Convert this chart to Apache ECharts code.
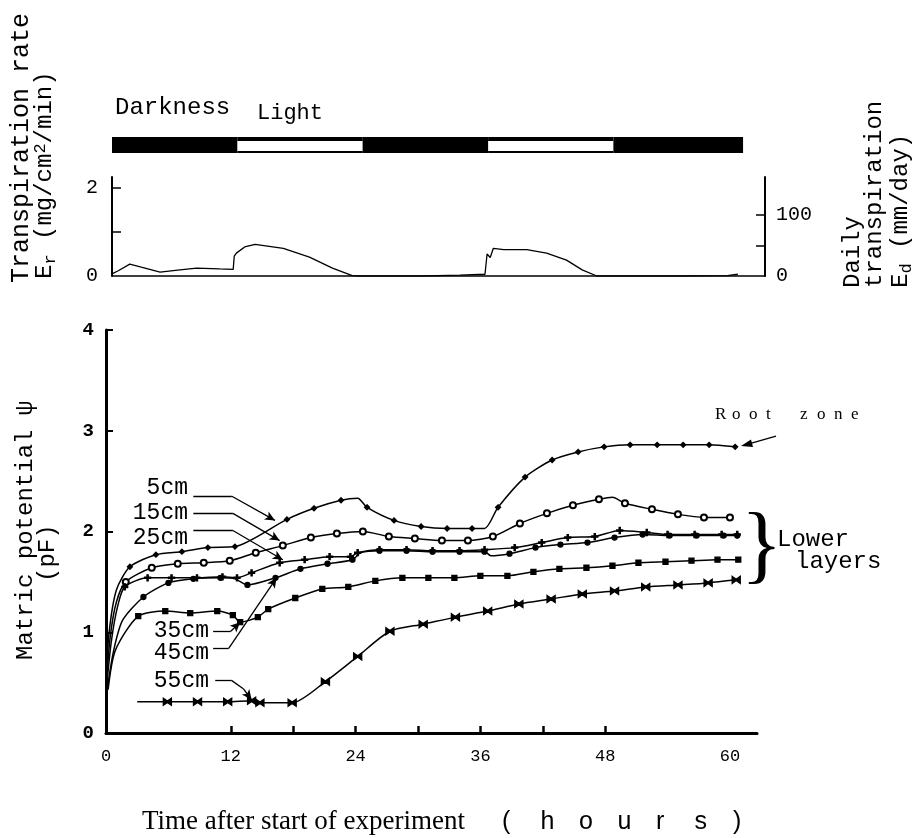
<!DOCTYPE html>
<html>
<head>
<meta charset="utf-8">
<script src="https://cdn.jsdelivr.net/npm/echarts@6/dist/echarts.min.js"></script>
<style>
  html, body { margin: 0; padding: 0; background: #fff; }
  #chart { width: 917px; height: 838px; }
</style>
</head>
<body>
<div id="chart"></div>
<script>
// ---- data (hours after start, value) ----
const photoperiods = [[0, 12, 'dark'], [12, 24, 'light'], [24, 36, 'dark'], [36, 48, 'light'], [48, 60.4, 'dark']]

// transpiration rate Er (mg/cm2/min)
const transpiration = [
  [0, 0.05], [0.6, 0.12], [1.7, 0.27], [2.8, 0.2], [4.6, 0.09], [6.5, 0.14], [8.1, 0.18],
  [10.3, 0.16], [11.6, 0.15], [11.7, 0.45], [11.9, 0.52], [12.7, 0.66], [13.7, 0.72],
  [16.4, 0.63], [18.9, 0.43], [21.1, 0.18], [23, 0.01], [23.5, 0], [30, 0], [33.3, 0.02],
  [35.7, 0.04], [35.9, 0.5], [36.2, 0.42], [36.5, 0.63], [37.5, 0.6], [39.7, 0.6],
  [41.6, 0.52], [43.5, 0.36], [45, 0.14], [46.4, 0], [55, 0], [58.9, 0.01], [59.9, 0.04]
]

// matric potential pF at each depth
const depth5 = [
  [0, 0.5], [0.3, 1.0], [1, 1.42], [2.3, 1.65], [4.8, 1.77], [7.3, 1.8], [9.8, 1.84], [12.4, 1.85],
  [17.4, 2.12], [20, 2.23], [22.6, 2.31], [24.2, 2.33], [25.1, 2.24], [27.7, 2.11], [30.3, 2.05],
  [32.8, 2.03], [35.2, 2.03], [36.4, 2.03], [37.7, 2.24], [40.3, 2.54], [42.9, 2.71], [45.4, 2.79],
  [47.9, 2.84], [50.4, 2.86], [53, 2.86], [55.5, 2.86], [58, 2.86], [60.5, 2.84]
]
const depth15 = [
  [0, 0.45], [0.4, 0.95], [1, 1.3], [1.9, 1.5], [4.4, 1.64], [6.9, 1.68], [9.4, 1.69], [11.9, 1.71],
  [14.4, 1.79], [17, 1.86], [19.7, 1.94], [22.2, 1.98], [24.7, 2.0], [27.2, 1.95], [29.7, 1.93],
  [32.3, 1.91], [34.8, 1.91], [37.2, 1.95], [39.8, 2.08], [42.4, 2.18], [44.9, 2.26], [47.4, 2.32],
  [48.7, 2.34], [49.9, 2.28], [52.5, 2.22], [55, 2.17], [57.5, 2.14], [60, 2.14]
]
const depth25 = [
  [0, 0.4], [0.5, 0.9], [1.1, 1.25], [1.8, 1.45], [4, 1.54], [6.3, 1.54], [8.75, 1.54], [11.2, 1.55],
  [12.6, 1.54], [14, 1.59], [16.7, 1.69], [19.1, 1.72], [21.5, 1.75], [23.5, 1.75], [24.2, 1.79],
  [26.3, 1.82], [28.9, 1.82], [31.4, 1.81], [34, 1.81], [36.4, 1.82], [39.3, 1.84], [41.9, 1.89],
  [44.4, 1.94], [47, 1.95], [49.4, 2.01], [52, 1.99], [54, 1.97], [56.6, 1.97], [59.2, 1.97], [60.7, 1.97]
]
const depth35 = [
  [0.2, 0.43], [0.9, 0.82], [3.1, 1.16], [5.7, 1.21], [8.1, 1.19], [10.7, 1.21], [12.2, 1.17],
  [12.9, 1.1], [14.6, 1.15], [15.6, 1.23], [18.2, 1.34], [20.8, 1.43], [23.3, 1.45], [25.9, 1.51],
  [28.5, 1.54], [31, 1.54], [33.5, 1.54], [36, 1.56], [38.6, 1.56], [41.1, 1.6], [43.6, 1.63],
  [46.2, 1.64], [48.7, 1.66], [51.2, 1.69], [53.8, 1.7], [56.3, 1.71], [58.8, 1.72], [60.8, 1.72]
]
const depth45 = [
  [0, 0.35], [0.7, 0.8], [1.6, 1.12], [3.6, 1.35], [6, 1.49], [8.4, 1.53], [11, 1.54], [12.4, 1.53],
  [13.6, 1.47], [16.3, 1.54], [18.7, 1.63], [21.3, 1.68], [23.7, 1.72], [24.5, 1.79], [26.3, 1.81],
  [28.9, 1.81], [31.4, 1.8], [34, 1.8], [36.4, 1.8], [37, 1.76], [38.8, 1.78], [41.3, 1.84],
  [43.7, 1.87], [46.3, 1.89], [48.9, 1.94], [51.6, 1.97], [54.2, 1.96], [56.8, 1.96], [59.4, 1.96], [60.7, 1.96]
]
const depth55 = [
  [3, 0.31], [5.9, 0.31], [8.8, 0.31], [11.7, 0.31], [14, 0.32], [14.8, 0.3], [17.9, 0.3],
  [21.1, 0.51], [24.2, 0.76], [27.3, 1.01], [30.5, 1.08], [33.6, 1.15], [36.7, 1.21], [39.7, 1.28],
  [42.8, 1.33], [45.8, 1.38], [48.9, 1.41], [51.9, 1.45], [55, 1.47], [57.9, 1.49], [60.6, 1.52]
]

const hourLabels = [0, 12, 24, 36, 48, 60]
const hourTicks = [12, 18, 24, 30, 36, 42, 48]
const erLabels = [0, 2]
const erTicks = [1, 2]
const edLabels = [0, 100]
const edTicks = [50, 100]

// ---- chart ----
const chart = echarts.init(document.getElementById('chart'))
const mono = '"Liberation Mono", "DejaVu Sans Mono", monospace'
const serif = '"Liberation Serif", "DejaVu Serif", serif'
const sans = '"Liberation Sans", Arial, sans-serif'

function depthSeries (name, data, symbol, size, bare) {
  return {
    name: name,
    type: 'line',
    xAxisIndex: 0,
    yAxisIndex: 0,
    data: data,
    smooth: 0.25,
    showAllSymbol: true,
    symbol: (v, p) => bare.indexOf(p.dataIndex) >= 0 ? 'none' : symbol,
    symbolSize: size,
    lineStyle: { color: '#000', width: 1.5 },
    itemStyle: { color: '#000', borderColor: '#000', borderWidth: 1.3 },
    z: 3
  }
}

// leader line from a depth label to its curve
function leader (pts) {
  const segs = []
  for (let i = 0; i < pts.length - 1; i++) {
    const last = i === pts.length - 2
    segs.push([
      { coord: pts[i], symbol: 'none' },
      { coord: pts[i + 1], symbol: last ? 'arrow' : 'none', symbolSize: [7, 10] }
    ])
  }
  return segs
}

function vText (text, x, y, rich, size) {
  return {
    type: 'text', x: x, y: y, rotation: Math.PI / 2, silent: true,
    style: {
      text: text, font: (size || 24) + 'px ' + mono, fill: '#000',
      align: 'left', textAlign: 'left', verticalAlign: 'middle', textVerticalAlign: 'middle',
      rich: rich
    }
  }
}

function hText (text, x, y, font, align) {
  return {
    type: 'text', x: x, y: y, silent: true,
    style: {
      text: text, font: font, fill: '#000',
      align: align || 'left', textAlign: align || 'left',
      verticalAlign: 'middle', textVerticalAlign: 'middle'
    }
  }
}

// spaced-out letters
function spaced (text, x, y, step, font) {
  return text.split('').map((c, i) => hText(c, x + i * step, y, font))
}

const subRich = {
  n: { font: '24px ' + mono, fill: '#000' },
  s: { font: '17px ' + mono, fill: '#000', verticalAlign: 'bottom', padding: [10, 0, 0, 0] },
  p: { font: '17px ' + mono, fill: '#000', verticalAlign: 'top', padding: [0, 0, 10, 0] }
}

const option = {
  animation: false,
  backgroundColor: '#fff',
  grid: [
    { left: 106, right: 160, top: 330, bottom: 105 },
    { left: 112, right: 152, top: 177, bottom: 562 },
    { left: 112, right: 152, top: 137, height: 16 }
  ],
  xAxis: [
    {
      gridIndex: 0, type: 'value', min: 0, max: 62.6, interval: 6,
      axisLine: { lineStyle: { color: '#000', width: 3 } },
      axisTick: { inside: true, length: 7, lineStyle: { color: '#000', width: 2.5 }, customValues: hourTicks },
      axisLabel: { customValues: hourLabels, color: '#000', fontFamily: mono, fontSize: 17, margin: 15 },
      splitLine: { show: false }
    },
    {
      gridIndex: 1, type: 'value', min: 0, max: 62.5,
      axisLine: { lineStyle: { color: '#000', width: 1.5 } },
      axisTick: { show: false }, axisLabel: { show: false }, splitLine: { show: false }
    },
    { gridIndex: 2, type: 'value', min: 0, max: 62.5, show: false }
  ],
  yAxis: [
    {
      gridIndex: 0, type: 'value', min: 0, max: 4, interval: 1,
      axisLine: { show: true, lineStyle: { color: '#000', width: 3 } },
      axisTick: { show: true, inside: true, length: 7, lineStyle: { color: '#000', width: 2 } },
      axisLabel: { color: '#000', fontFamily: mono, fontSize: 19, fontWeight: 'bold', margin: 12 },
      splitLine: { show: false }
    },
    {
      gridIndex: 1, type: 'value', min: 0, max: 2.25, interval: 1,
      axisLine: { show: true, lineStyle: { color: '#000', width: 2 } },
      axisTick: { show: true, inside: true, length: 9, lineStyle: { color: '#000', width: 1.5 }, customValues: erTicks },
      axisLabel: { customValues: erLabels, color: '#000', fontFamily: mono, fontSize: 20, margin: 14 },
      splitLine: { show: false }
    },
    {
      gridIndex: 1, type: 'value', position: 'right', min: 0, max: 162, interval: 50,
      axisLine: { show: true, lineStyle: { color: '#000', width: 2 } },
      axisTick: { show: true, inside: true, length: 9, lineStyle: { color: '#000', width: 1.5 }, customValues: edTicks },
      axisLabel: { customValues: edLabels, color: '#000', fontFamily: mono, fontSize: 20, margin: 11 },
      splitLine: { show: false }
    },
    { gridIndex: 2, type: 'value', min: 0, max: 1, show: false }
  ],
  series: [
    {
      name: 'photoperiod', type: 'custom', xAxisIndex: 2, yAxisIndex: 3,
      data: photoperiods.map(p => [p[0], p[1], p[2] === 'light' ? 1 : 0]),
      renderItem: function (params, api) {
        const a = api.coord([api.value(0), 1])
        const b = api.coord([api.value(1), 0])
        const w = b[0] - a[0]
        const h = b[1] - a[1]
        const children = [{ type: 'rect', shape: { x: a[0], y: a[1], width: w, height: h }, style: { fill: '#000' } }]
        if (api.value(2) === 1) {
          children.push({ type: 'rect', shape: { x: a[0], y: a[1] + 4, width: w, height: h - 6 }, style: { fill: '#fff' } })
        }
        return { type: 'group', children: children }
      }
    },
    {
      name: 'Er', type: 'line', xAxisIndex: 1, yAxisIndex: 1, data: transpiration,
      symbol: 'none', lineStyle: { color: '#000', width: 1.3 }
    },
    Object.assign(depthSeries('5cm', depth5, 'diamond', 5, [0, 1, 2, 11, 17]), {
      markLine: {
        silent: true, animation: false, symbol: ['none', 'none'],
        label: { show: false },
        lineStyle: { color: '#000', width: 1.3, type: 'solid' },
        data: [].concat(
          leader([[8.4, 2.35], [12.1, 2.35], [16.25, 2.11]]),
          leader([[8.4, 2.18], [12.2, 2.18], [16.7, 1.91]]),
          leader([[8.4, 2.01], [12.2, 2.01], [17.0, 1.72]]),
          leader([[10.3, 1.01], [12.0, 1.01], [12.9, 1.1]]),
          leader([[10.3, 0.84], [11.8, 0.84], [16.4, 1.54]]),
          leader([[10.5, 0.52], [12.1, 0.52], [13.2, 0.44], [14.0, 0.33]])
        )
      }
    }),
    depthSeries('15cm', depth15, 'emptyCircle', 6, [0, 1, 2, 22]),
    depthSeries('25cm', depth25, 'path://M4,0H6V4H10V6H6V10H4V6H0V4H4Z', 6, [0, 1, 2]),
    depthSeries('35cm', depth35, 'rect', 5, [0, 1]),
    depthSeries('45cm', depth45, 'circle', 5, [0, 1, 2, 7, 13, 19]),
    depthSeries('55cm', depth55, 'path://M0,0L5,4L10,0L10,10L5,6L0,10Z', [8, 7], [0])
  ],
  graphic: [
    vText('Transpiration rate', 21, 283, null, 25),
    vText('{n|E}{s|r}{n| (mg/cm}{p|2}{n|/min)}', 45, 279, subRich),
    vText('Daily', 853, 288),
    vText('transpiration', 875, 288),
    vText('{n|E}{s|d}{n| (mm/day)}', 901, 288, subRich),
    vText('Matric potential ψ', 26, 660),
    vText('(pF)', 48, 582),
    hText('Darkness', 115, 108, '24px ' + mono),
    hText('Light', 257, 113, '22px ' + mono),
    hText('5cm', 188, 488, '23px ' + mono, 'right'),
    hText('15cm', 188, 513, '23px ' + mono, 'right'),
    hText('25cm', 188, 538, '23px ' + mono, 'right'),
    hText('35cm', 209, 631, '23px ' + mono, 'right'),
    hText('45cm', 209, 653, '23px ' + mono, 'right'),
    hText('55cm', 209, 681, '23px ' + mono, 'right'),
    hText('Lower', 777, 540, '24px ' + mono),
    hText('layers', 795, 562, '24px ' + mono),
    hText('}', 741, 549, '86px ' + serif),
    { type: 'line', silent: true, shape: { x1: 776, y1: 436, x2: 748, y2: 444 }, style: { stroke: '#000', lineWidth: 1.3 } },
    { type: 'polygon', silent: true, shape: { points: [[741, 446], [751, 439.5], [753, 447]] }, style: { fill: '#000' } },
    hText('Time after start of experiment', 142, 822, '27px ' + serif)
  ]
    .concat(spaced('Root zone', 715, 415, 17, '17px ' + serif))
    .concat(spaced('(hours)', 502, 822, 38.5, '25px ' + sans))
}

chart.setOption(option)
</script>
</body>
</html>
